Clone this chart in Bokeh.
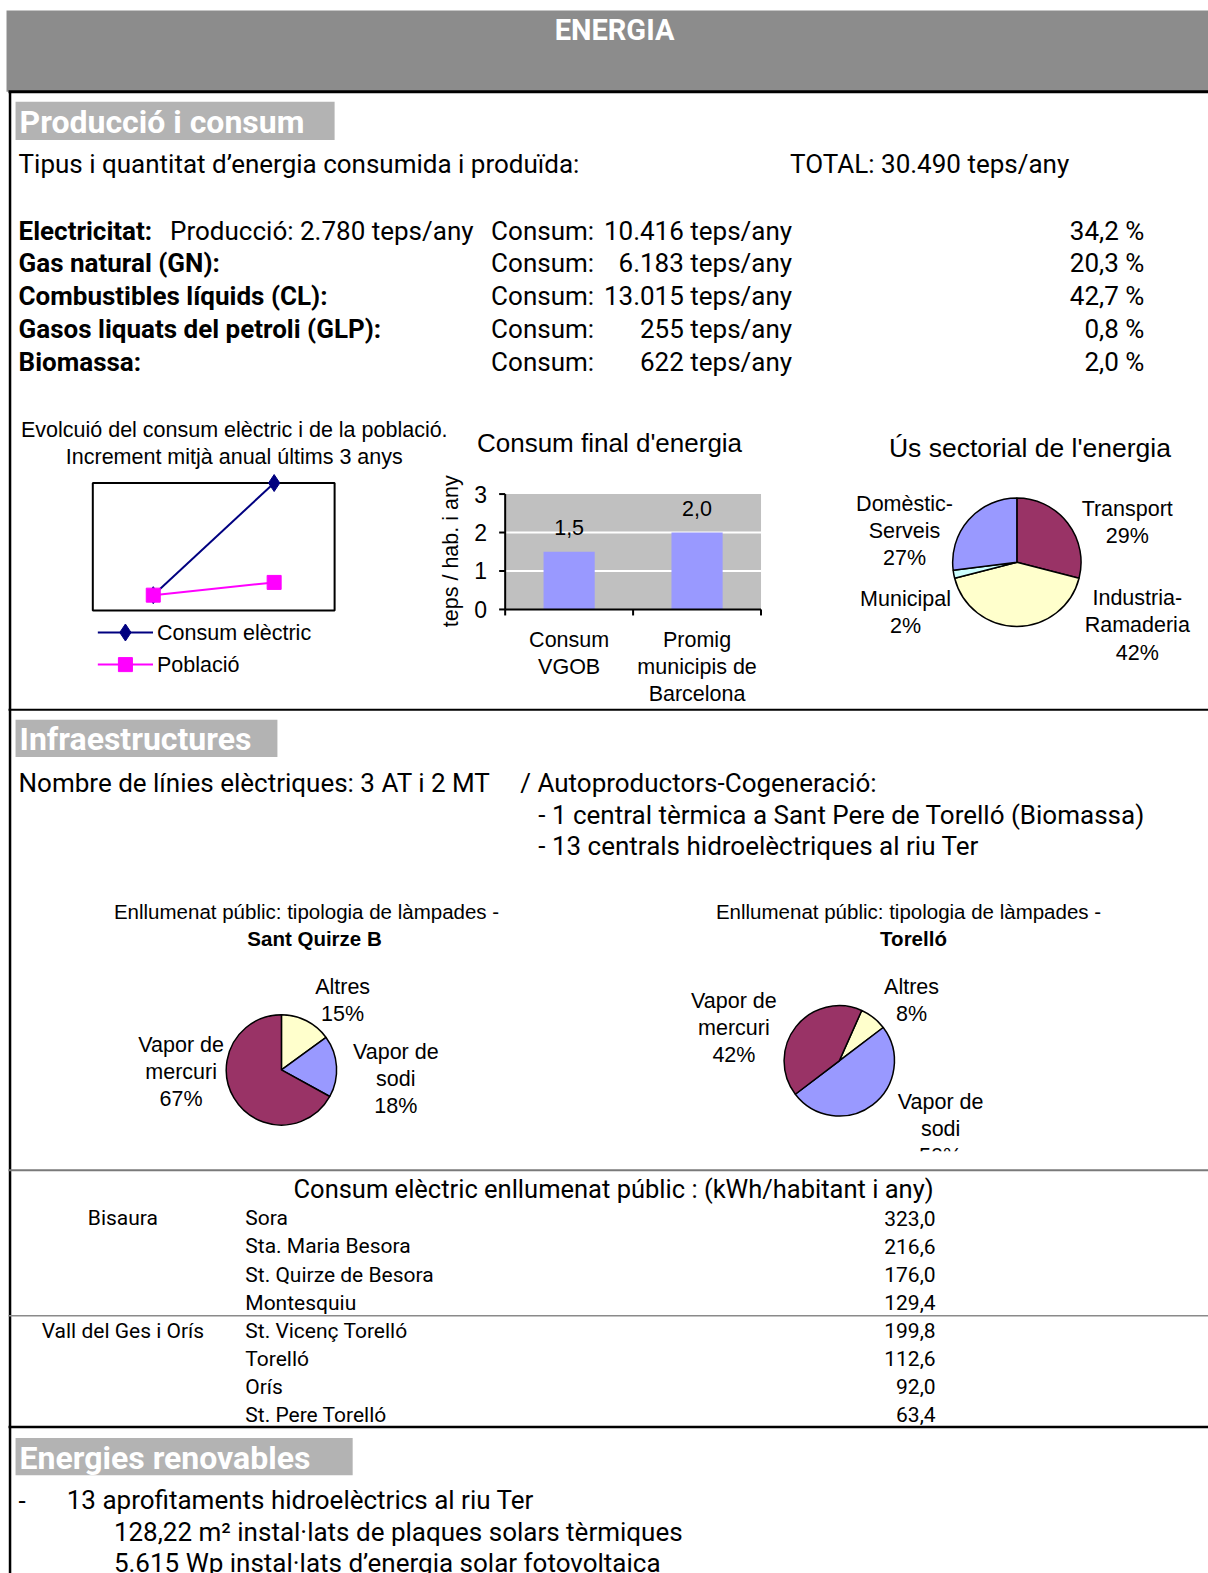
import math
from bokeh.plotting import figure
from bokeh.models import Range1d
from bokeh.core.properties import value
from bokeh.embed import file_html
from bokeh.resources import INLINE

# ---------------- data ----------------
energy_types = ["Electricitat:", "Gas natural (GN):", "Combustibles líquids (CL):",
                "Gasos liquats del petroli (GLP):", "Biomassa:"]
energy_consum = ["10.416", "6.183", "13.015", "255", "622"]
energy_pct = ["34,2 %", "20,3 %", "42,7 %", "0,8 %", "2,0 %"]
elec_production = "2.780"
total_energy = "30.490"

evol_series = ["Consum elèctric", "Població"]
evol_x = [0.5, 1.5]
evol_elec = [0.6, 5.0]
evol_pop = [0.6, 1.1]

bar_cats = [["Consum", "VGOB"], ["Promig", "municipis de", "Barcelona"]]
bar_vals = [1.5, 2.0]
bar_labels = ["1,5", "2,0"]
bar_ticks = [0, 1, 2, 3]

sect_names = [["Transport", "29%"], ["Industria-", "Ramaderia", "42%"],
              ["Municipal", "2%"], ["Domèstic-", "Serveis", "27%"]]
sect_vals = [29, 42, 2, 27]
sect_colors = ["#993366", "#ffffcc", "#ccffff", "#9999ff"]

sq_names = [["Altres", "15%"], ["Vapor de", "sodi", "18%"], ["Vapor de", "mercuri", "67%"]]
sq_vals = [15, 18, 67]
sq_colors = ["#ffffcc", "#9999ff", "#993366"]

to_names = [["Altres", "8%"], ["Vapor de", "sodi", "50%"], ["Vapor de", "mercuri", "42%"]]
to_vals = [8, 50, 42]
to_colors = ["#ffffcc", "#9999ff", "#993366"]

tbl_groups = ["Bisaura", "Vall del Ges i Orís"]
tbl_munis = ["Sora", "Sta. Maria Besora", "St. Quirze de Besora", "Montesquiu",
             "St. Vicenç Torelló", "Torelló", "Orís", "St. Pere Torelló"]
tbl_vals = [323.0, 216.6, 176.0, 129.4, 199.8, 112.6, 92.0, 63.4]

renov = ["13 aprofitaments hidroelèctrics al riu Ter",
         "128,22 m² instal·lats de plaques solars tèrmiques",
         "5.615 Wp instal·lats d’energia solar fotovoltaica"]

# ---------------- canvas ----------------
W, H = 1208, 1573
p = figure(width=W, height=H, x_range=Range1d(0, 1204), y_range=Range1d(-1568, 0),
           output_backend="svg", toolbar_location=None, min_border=0,
           x_axis_location=None, y_axis_location=None)
p.grid.visible = False
p.outline_line_color = None
p.background_fill_color = "white"

BODY = value("Roboto")
CH = value("Liberation Sans")
FS = 26      # body text size
CS = 21.5    # chart label size


def Y(py):
    return -py


def txt(x, y, s, size, font=BODY, align="left", style="normal", color="black", angle=0.0):
    p.text(x=[x], y=[Y(y)], text=[s], text_font=font, text_font_size=f"{size}px",
           text_align=align, text_baseline="middle", text_font_style=style,
           text_color=color, angle=angle)


# header
p.quad(left=[6], right=[1210], top=[Y(10)], bottom=[Y(91)], fill_color="#8c8c8c", line_color=None)
txt(612, 29, "ENERGIA", 29, style="bold", color="white", align="center")
p.segment(x0=[8], y0=[Y(91)], x1=[1210], y1=[Y(91)], line_color="black", line_width=3)
p.segment(x0=[9.5], y0=[Y(91)], x1=[9.5], y1=[Y(1575)], line_color="black", line_width=2.5)

# section separators
p.segment(x0=[8], y0=[Y(707)], x1=[1210], y1=[Y(707)], line_color="black", line_width=2)
p.segment(x0=[8], y0=[Y(1166)], x1=[1210], y1=[Y(1166)], line_color="#7a7a7a", line_width=2)
p.segment(x0=[8], y0=[Y(1311)], x1=[1210], y1=[Y(1311)], line_color="#8a8a8a", line_width=1.5)
p.segment(x0=[8], y0=[Y(1422)], x1=[1210], y1=[Y(1422)], line_color="black", line_width=2.5)


def section(x0, x1, y0, y1, title):
    p.quad(left=[x0], right=[x1], top=[Y(y0)], bottom=[Y(y1)], fill_color="#b3b3b3", line_color=None)
    txt(x0 + 4, (y0 + y1) / 2 + 1, title, 32, style="bold", color="white")


# ---- Producció i consum ----
section(15, 333, 101, 139, "Producció i consum")
txt(18, 163, "Tipus i quantitat d’energia consumida i produïda:", FS)
txt(787, 163, f"TOTAL: {total_energy} teps/any", FS)
rows_y = [230, 262, 295, 327, 360]
for i, (lab, cons, pct) in enumerate(zip(energy_types, energy_consum, energy_pct)):
    yy = rows_y[i]
    txt(18, yy, lab, FS, style="bold")
    txt(489, yy, "Consum:", FS)
    txt(789, yy, f"{cons} teps/any", FS, align="right")
    txt(1140, yy, pct, FS, align="right")
txt(169, rows_y[0], f"Producció: {elec_production} teps/any", FS)

# ---- line chart: evolució ----
txt(233, 428, "Evolcuió del consum elèctric i de la població.", CS, font=CH, align="center")
txt(233, 455, "Increment mitjà anual últims 3 anys", CS, font=CH, align="center")
lc = p.subplot(x_source=Range1d(0, 2), y_source=Range1d(0, 5),
               x_target=Range1d(92, 333), y_target=Range1d(Y(608), Y(481)))
lc.quad(left=[0], right=[2], bottom=[0], top=[5], fill_color=None, line_color="black", line_width=2)
lc.line(evol_x, evol_elec, line_color="#000080", line_width=2)
lc.scatter(evol_x, evol_elec, marker="diamond", size=17, fill_color="#000080", line_color="#000080")
lc.line(evol_x, evol_pop, line_color="#ff00ff", line_width=2)
lc.scatter(evol_x, evol_pop, marker="square", size=14, fill_color="#ff00ff", line_color="#ff00ff")
# legend
leg_y = [630, 662]
leg_col = ["#000080", "#ff00ff"]
leg_mark = ["diamond", "square"]
leg_size = [17, 14]
for i in range(2):
    p.segment(x0=[97], y0=[Y(leg_y[i])], x1=[152], y1=[Y(leg_y[i])], line_color=leg_col[i], line_width=2)
    p.scatter([124.5], [Y(leg_y[i])], marker=leg_mark[i], size=leg_size[i], fill_color=leg_col[i],
              line_color=leg_col[i])
    txt(156, leg_y[i], evol_series[i], CS, font=CH)

# ---- bar chart: consum final ----
txt(607, 441, "Consum final d'energia", 26, font=CH, align="center")
bx0, bx1, by0, by1 = 503, 758, 607, 492
bc = p.subplot(x_source=Range1d(0, 2), y_source=Range1d(0, 3),
               x_target=Range1d(bx0, bx1), y_target=Range1d(Y(by0), Y(by1)))
pxx = 2 / (bx1 - bx0)
pxy = 3 / (by0 - by1)
bc.quad(left=[0], right=[2], bottom=[0], top=[3], fill_color="#c0c0c0", line_color=None)
bc.segment(x0=[0] * 2, y0=bar_ticks[1:3], x1=[2] * 2, y1=bar_ticks[1:3], line_color="white", line_width=2)
bar_x = [0.5, 1.5]
bc.vbar(x=bar_x, top=bar_vals, width=0.4, bottom=0, fill_color="#9999ff", line_color=None)
bc.segment(x0=[0], y0=[0], x1=[0], y1=[3], line_color="black", line_width=2)
bc.segment(x0=[0], y0=[0], x1=[2], y1=[0], line_color="black", line_width=2)
bc.segment(x0=[-6 * pxx] * 4, y0=bar_ticks, x1=[0] * 4, y1=bar_ticks, line_color="black", line_width=2)
bc.segment(x0=[0, 1, 2], y0=[0] * 3, x1=[0, 1, 2], y1=[-6 * pxy] * 3, line_color="black", line_width=2)
bc.text(x=[-18 * pxx] * 4, y=bar_ticks, text=[str(t) for t in bar_ticks], text_font=CH,
        text_font_size="23px", text_align="right", text_baseline="middle")
bc.text(x=bar_x, y=bar_vals, text=bar_labels, text_font=CH, text_font_size=f"{CS}px",
        text_align="center", text_baseline="middle", y_offset=-24)
for i, lines in enumerate(bar_cats):
    for j, s in enumerate(lines):
        bc.text(x=[bar_x[i]], y=[0], text=[s], text_font=CH, text_font_size=f"{CS}px",
                text_align="center", text_baseline="middle", y_offset=31 + 27 * j)
txt(449, 549, "teps / hab. i any", CS, font=CH, align="center", angle=math.pi / 2)


# ---- pies ----
def pie(cx, cy, r, vals, colors, start_deg):
    tot = float(sum(vals))
    a = math.radians(start_deg)
    starts, ends = [], []
    for v in vals:
        starts.append(a)
        a = a - v / tot * 2 * math.pi
        ends.append(a)
    p.wedge(x=[cx] * len(vals), y=[Y(cy)] * len(vals), radius=r, start_angle=starts, end_angle=ends,
            direction="clock", fill_color=colors, line_color="black", line_width=1.5)


def label(cx, y0, lines, size=CS, step=27, font=CH):
    for j, s in enumerate(lines):
        txt(cx, y0 + step * j, s, size, font=font, align="center")


txt(1026, 446, "Ús sectorial de l'energia", 26.5, font=CH, align="center")
pie(1013, 560, 64, sect_vals, sect_colors, 90)
label(1123, 507, sect_names[0])
label(1133, 596, sect_names[1])
label(902, 597, sect_names[2])
label(901, 502, sect_names[3])

# ---- Infraestructures ----
section(15, 276, 717, 754, "Infraestructures")
txt(18, 780, "Nombre de línies elèctriques: 3 AT i 2 MT", FS)
txt(518, 780, "/  Autoproductors-Cogeneració:", FS)
txt(536, 812, "- 1 central tèrmica a Sant Pere de Torelló (Biomassa)", FS)
txt(536, 843, "- 13 centrals hidroelèctriques al riu Ter", FS)

txt(305, 908, "Enllumenat públic: tipologia de làmpades -", 20.5, font=CH, align="center")
txt(313, 935, "Sant Quirze B", 20.5, font=CH, align="center", style="bold")
pie(280, 1066, 55, sq_vals, sq_colors, 90)
label(341, 983, sq_names[0])
label(394, 1048, sq_names[1])
label(180, 1041, sq_names[2])

txt(905, 908, "Enllumenat públic: tipologia de làmpades -", 20.5, font=CH, align="center")
txt(910, 935, "Torelló", 20.5, font=CH, align="center", style="bold")
pie(836, 1057, 55, to_vals, to_colors, 66)
label(908, 983, to_names[0])
label(937, 1098, to_names[1])
label(731, 997, to_names[2])
# chart area clip below Torelló pie
p.quad(left=[700], right=[1100], top=[Y(1147)], bottom=[Y(1164)], fill_color="white", line_color=None)

# ---- table ----
txt(611, 1185, "Consum elèctric enllumenat públic : (kWh/habitant i any)", 25.5, align="center")
row0 = 1214
for i, (m, v) in enumerate(zip(tbl_munis, tbl_vals)):
    yy = row0 + 28 * i
    txt(244, yy, m, 21)
    txt(932, yy, f"{v:.1f}".replace(".", ","), 21, align="right")
txt(122, row0, tbl_groups[0], 21, align="center")
txt(122, row0 + 28 * 4, tbl_groups[1], 21, align="center")

# ---- Energies renovables ----
section(15, 351, 1433, 1470, "Energies renovables")
txt(18, 1495, "-", FS)
txt(66, 1495, renov[0], FS)
txt(113, 1527, renov[1], FS)
txt(113, 1558, renov[2], FS)

open("out.html", "w").write(file_html(p, INLINE))
